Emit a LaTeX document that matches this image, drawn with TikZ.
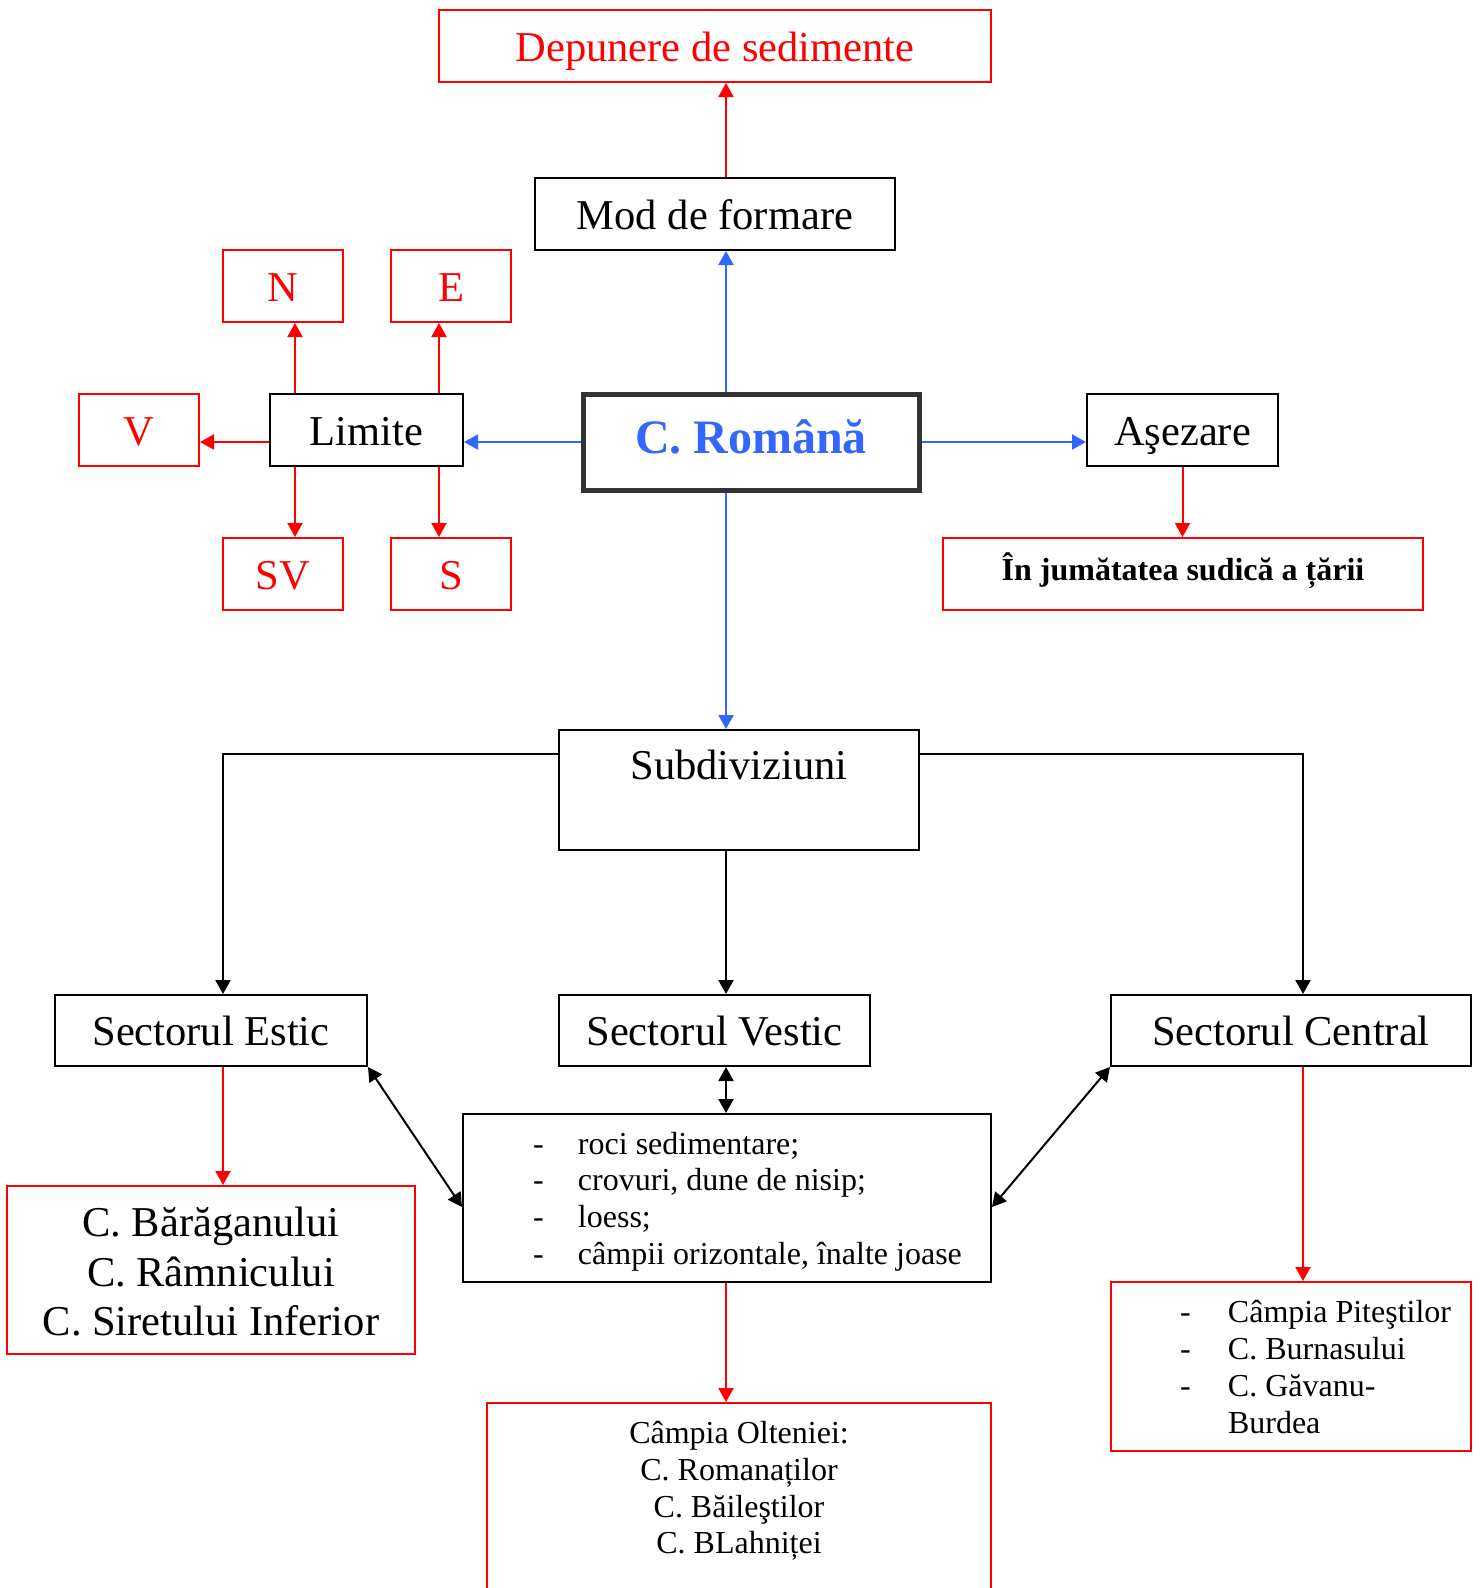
\documentclass[tikz,border=0pt]{standalone}
\usepackage{fontspec}
\setmainfont{Liberation Serif}
\usetikzlibrary{arrows.meta}
\definecolor{rred}{RGB}{255,0,0}
\definecolor{bblue}{RGB}{51,102,255}
\definecolor{dgray}{RGB}{51,51,51}
\begin{document}
\begin{tikzpicture}[x=1pt,y=-1pt,
  bbox/.style={draw=black, line width=2pt, inner sep=0pt},
  rbox/.style={draw=rred, line width=2pt, inner sep=0pt},
  big/.style={font=\fontsize{42.5}{49.6}\selectfont},
  one/.style={text height=30pt, text depth=0pt},
  small/.style={font=\fontsize{32}{36.8}\selectfont},
  tip/.tip={Triangle[length=14pt,width=15pt]},
  bconn/.style={draw=bblue, line width=2pt, -{tip[bblue]}},
  rconn/.style={draw=rred, line width=2pt, -{tip[rred]}},
  kconn/.style={draw=black, line width=2pt, -{tip}},
  dconn/.style={draw=black, line width=2pt, {tip}-{tip}}]
\useasboundingbox (0,0) rectangle (1481,1588);
\clip (0,0) rectangle (1481,1588);
\fill[white] (0,0) rectangle (1481,1588);

\coordinate (mx) at (726,0);
\coordinate (lx1) at (295,0);
\coordinate (lx2) at (439,0);
\coordinate (ex) at (223,0);
\coordinate (cx) at (1303,0);
\coordinate (sy) at (0,754);
\coordinate (ly) at (0,1207);

\node[rbox, big, one, text=rred, minimum width=552, minimum height=72] (dep) at (715,46) {Depunere de sedimente};
\node[bbox, big, one, minimum width=360, minimum height=72] (mod) at (715,214) {Mod de formare};
\node[rbox, big, one, text=rred, minimum width=120, minimum height=72] (n) at (283,286) {N};
\node[rbox, big, one, text=rred, minimum width=120, minimum height=72] (e) at (451,286) {E};
\node[rbox, big, one, text=rred, minimum width=120, minimum height=72] (v) at (139,430) {V};
\node[bbox, big, one, minimum width=193, minimum height=72] (lim) at (366.5,430) {Limite};
\node[draw=dgray, line width=5pt, inner sep=0pt, minimum width=336, minimum height=96,
      text height=23pt, text depth=0pt,
      font=\fontsize{48}{56}\selectfont\bfseries, text=bblue] (rom) at (751,442) {C. Română};
\node[bbox, big, one, minimum width=191, minimum height=72] (asz) at (1182.5,430) {Aşezare};
\node[rbox, big, one, text=rred, minimum width=120, minimum height=72] (sv) at (283,574) {SV};
\node[rbox, big, one, text=rred, minimum width=120, minimum height=72] (s) at (451,574) {S};
\node[rbox, font=\fontsize{32}{36.8}\selectfont\bfseries, text height=20pt, text depth=8pt,
      minimum width=480, minimum height=72] (jum) at (1183,574) {În jumătatea sudică a țării};

\node[bbox, big, align=center, minimum width=360, minimum height=120] (sub) at (739,790) {Subdiviziuni\\\mbox{}};

\node[bbox, big, one, minimum width=312, minimum height=71] (est) at (211,1030.5) {Sectorul Estic};
\node[bbox, big, one, minimum width=311, minimum height=71] (ves) at (714.5,1030.5) {Sectorul Vestic};
\node[bbox, big, one, minimum width=360, minimum height=71] (cen) at (1291,1030.5) {Sectorul Central};

\node[bbox, small, minimum width=528, minimum height=168] (lst) at (727,1198) {%
  \begin{tabular}{@{\hspace{70pt}}p{45pt}@{}p{413pt}@{}}
  \noalign{\vspace{8pt}}
  - & roci sedimentare;\\
  - & crovuri, dune de nisip;\\
  - & loess;\\
  - & câmpii orizontale, înalte joase
  \end{tabular}};

\node[rbox, big, align=center, minimum width=408, minimum height=168] (bar) at (211,1270) {\rule{0pt}{33pt}C. Bărăganului\\C. Râmnicului\\C. Siretului Inferior};

\node[rbox, minimum width=504, minimum height=300] (olt) at (739,1553) {};
\node[small, align=center, inner sep=0pt] (olttext) at (739,1491) {Câmpia Olteniei:\\C. Romanaților\\C. Băileştilor\\C. BLahniței};

\node[rbox, small, minimum width=360, minimum height=169] (clst) at (1291,1366.5) {%
  \begin{tabular}{@{\hspace{69pt}}p{48pt}@{}p{243pt}@{}}
  \noalign{\vspace{8pt}}
  - & Câmpia Piteştilor\\
  - & C. Burnasului\\
  - & C. Găvanu-\\
    & Burdea
  \end{tabular}};

% connectors
\draw[bconn] (rom.north -| mx) -- (mod.south -| mx);
\draw[rconn] (mod.north -| mx) -- (dep.south -| mx);
\draw[bconn] (rom.west) -- (rom.west -| lim.east);
\draw[bconn] (rom.east) -- (rom.east -| asz.west);
\draw[bconn] (rom.south -| mx) -- (sub.north -| mx);

\draw[rconn] (lim.north -| lx1) -- (n.south -| lx1);
\draw[rconn] (lim.north -| lx2) -- (e.south -| lx2);
\draw[rconn] (rom.west -| lim.west) -- (rom.west -| v.east);
\draw[rconn] (lim.south -| lx1) -- (sv.north -| lx1);
\draw[rconn] (lim.south -| lx2) -- (s.north -| lx2);
\draw[rconn] (asz.south) -- (asz.south |- jum.north);

\draw[kconn] (sub.west |- sy) -| (ex |- est.north);
\draw[kconn] (sub.east |- sy) -| (cx |- cen.north);
\draw[kconn] (sub.south -| mx) -- (ves.north -| mx);

\draw[rconn] (ex |- est.south) -- (ex |- bar.north);
\draw[dconn] (ves.south -| mx) -- (lst.north -| mx);
\draw[dconn] (est.south east) -- (lst.west |- ly);
\draw[dconn] (lst.east |- ly) -- (cen.south west);
\draw[rconn] (lst.south -| mx) -- (olt.north -| mx);
\draw[rconn] (cx |- cen.south) -- (cx |- clst.north);
\end{tikzpicture}
\end{document}
